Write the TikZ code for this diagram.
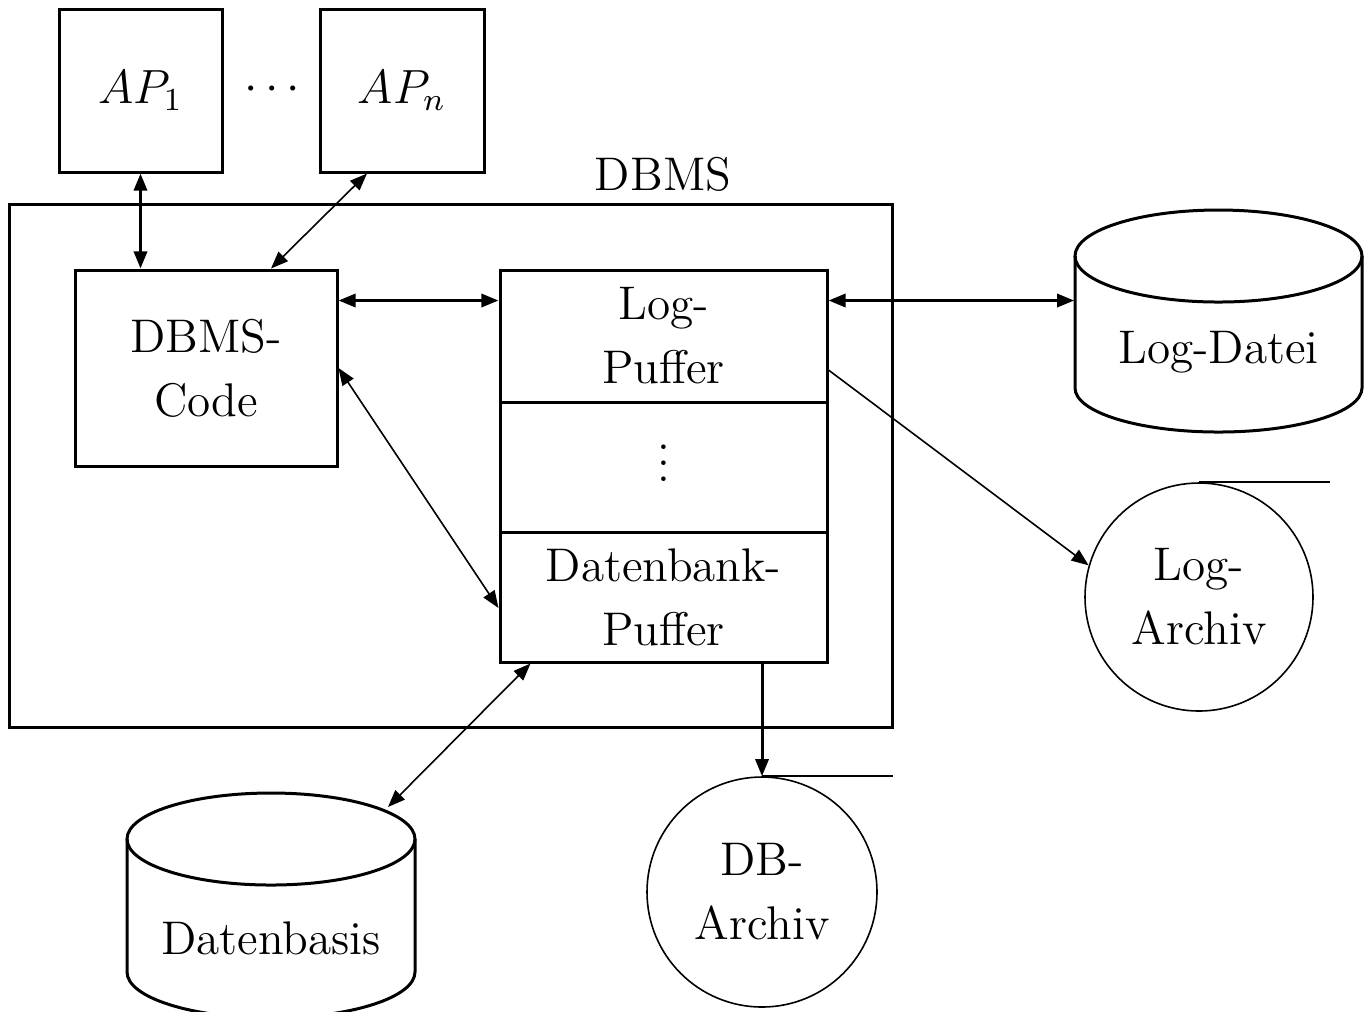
\documentclass[tikz,border=0pt]{standalone}
\usetikzlibrary{arrows.meta,calc}
\begin{document}
\begin{tikzpicture}[x=0.25pt,y=-0.25pt,
  font=\fontsize{11.8}{16}\selectfont,
  thickline/.style={line width=0.75pt},
  thinline/.style={line width=0.4pt},
  box/.style={draw,thickline,rectangle,inner sep=0pt,align=center},
  tape/.style={draw,thinline,circle,inner sep=0pt,minimum size=57pt,align=center},
  both/.style={{Triangle[length=4.3pt,width=3.3pt]}-{Triangle[length=4.3pt,width=3.3pt]}},
  tofwd/.style={-{Triangle[length=4.3pt,width=3.3pt]}},
  body/.style={inner sep=0pt,minimum width=71.75pt,minimum height=56pt}]
\useasboundingbox (0,0) rectangle (1369,1011);

% application programs
\node[box,minimum width=40.75pt,minimum height=40.75pt] (ap1) at (140.5,90.5) {$AP_1$};
\node[box,minimum width=41pt,minimum height=40.75pt] (apn) at (402,90.5) {$AP_n$};
\node (dots) at (272,90) {$\cdots$};

% DBMS frame
\node[box,minimum width=220.75pt,minimum height=130.75pt] (dbms) at (450.5,465.5) {};
\node (dbmslabel) at (663,174) {DBMS};

\node[box,minimum width=65.5pt,minimum height=49pt] (code) at (206,368) {DBMS-\\Code};

% buffer stack
\node[box,minimum width=81.75pt,minimum height=33pt] (logpuffer) at (663.5,336) {Log-\\Puffer};
\node[box,minimum width=81.75pt,minimum height=32.5pt] (mid) at (663.5,467) {};
\node (middots) at (663.5,451) {$\vdots$};
\node[box,minimum width=81.75pt,minimum height=32.5pt] (dbpuffer) at (663.5,597) {Datenbank-\\Puffer};

% log file (cylinder)
\node[body] (logdatei) at (1218.5,322) {};
\draw[thickline] (1075,256) -- (1075,388) arc[start angle=180,end angle=360,x radius=35.875pt,y radius=11pt] -- (1362,256);
\draw[thickline] (1218.5,256) ellipse[x radius=35.875pt,y radius=11.5pt];
\node (logdateitext) at (1218.5,352) {Log-Datei};

% database (cylinder)
\node[body,minimum width=72pt] (datenbasis) at (271,900) {};
\draw[thickline] (127,839) -- (127,972) arc[start angle=180,end angle=360,x radius=36pt,y radius=11.5pt] -- (415,839);
\draw[thickline] (271,839) ellipse[x radius=36pt,y radius=11.5pt];
\node (datenbasistext) at (271,938) {Datenbasis};
\coordinate (datenbasis-in) at (388,807);

% archive tapes
\node[tape] (logarchiv) at (1199,597) {Log-\\Archiv};
\draw[thinline] (logarchiv.north) -- ++(131,0);
\node[tape,minimum size=57.5pt] (dbarchiv) at (762,892) {DB-\\Archiv};
\draw[thinline] (dbarchiv.north) -- ++(131,0);

% connectors
\draw[thickline,both] (ap1.south) -- (ap1.south |- code.north);
\draw[thinline,both] ([xshift=-8.75pt]apn.south) -- ([xshift=16.25pt]code.north);
\draw[thickline,both] ([yshift=-8pt]code.north east) -- ([yshift=-8pt]logpuffer.north west);
\draw[thickline,both] ([yshift=-8pt]logpuffer.north east) -- ([yshift=-8pt]logpuffer.north east -| logdatei.west);
\draw[thinline,both] (code.east) -- ([yshift=-2.75pt]dbpuffer.west);
\draw[thinline,tofwd] ([yshift=-8.5pt]logpuffer.east) -- (logarchiv.164);
\draw[thinline,both] ([xshift=8pt]dbpuffer.south west) -- (datenbasis-in);
\draw[thickline,tofwd] (dbarchiv.north |- dbpuffer.south) -- (dbarchiv.north);
\end{tikzpicture}
\end{document}
